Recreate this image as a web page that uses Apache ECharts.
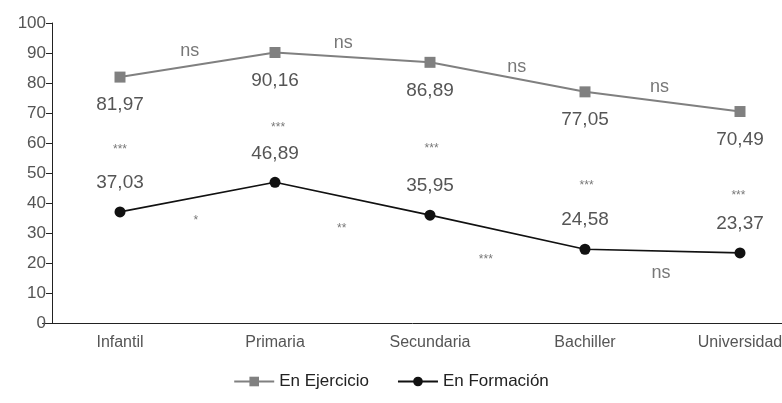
<!DOCTYPE html>
<html>
<head>
<meta charset="utf-8">
<script src="https://cdn.jsdelivr.net/npm/echarts@6/dist/echarts.min.js"></script>
<style>html,body{margin:0;padding:0;background:#fff}#c{width:782px;height:403px}</style>
</head>
<body>
<div id="c"></div>
<script>
var categories = ['Infantil', 'Primaria', 'Secundaria', 'Bachiller', 'Universidad'];
var ejercicio = [81.97, 90.16, 86.89, 77.05, 70.49];
var formacion = [37.03, 46.89, 35.95, 24.58, 23.37];
var yTicks = [0, 10, 20, 30, 40, 50, 60, 70, 80, 90, 100];
// significance annotations: [x position (category index), y value, text]
var annX = [0.45, 1.44, 2.56, 3.48, 0.0, 1.02, 2.01, 3.01, 3.99, 0.49, 1.43, 2.36, 3.49];
var annY = [90.7, 93.3, 85.3, 78.7, 58.7, 66, 59, 46.7, 43.3, 35, 32.3, 22, 16.7];
var annText = ['ns', 'ns', 'ns', 'ns', '***', '***', '***', '***', '***', '*', '**', '***', 'ns'];

var FONT = '"Liberation Sans", Arial, sans-serif';
var fmt = function (v) { return v.toFixed(2).replace('.', ','); };

var annData = annX.map(function (x, i) {
  var isStar = annText[i].charAt(0) === '*';
  return {
    value: [x, annY[i]],
    name: annText[i],
    label: { fontSize: isStar ? 12 : 18, offset: [0, isStar ? 3 : 0] }
  };
});

var chart = echarts.init(document.getElementById('c'));
chart.setOption({
  animation: false,
  textStyle: { fontFamily: FONT },
  grid: { left: 42.5, width: 775, top: 23, height: 300, containLabel: false, outerBoundsMode: 'none' },
  legend: {
    data: ['En Ejercicio', 'En Formación'],
    bottom: 8,
    left: 'center',
    itemWidth: 40,
    itemHeight: 12,
    itemGap: 28,
    textStyle: { fontSize: 17, color: '#222', fontFamily: FONT }
  },
  xAxis: [{
    type: 'category',
    data: categories,
    boundaryGap: true,
    axisLine: { lineStyle: { color: '#222', width: 1 } },
    axisTick: { alignWithLabel: true, length: 6, lineStyle: { color: '#222' } },
    axisLabel: { fontSize: 16, color: '#555', margin: 12, fontFamily: FONT }
  }, {
    type: 'value',
    min: -0.5,
    max: 4.5,
    show: false
  }],
  yAxis: {
    type: 'value',
    min: yTicks[0],
    max: yTicks[yTicks.length - 1],
    interval: 10,
    offset: -9.5,
    splitLine: { show: false },
    axisLine: { show: true, onZero: false, lineStyle: { color: '#222', width: 1 } },
    axisTick: { show: true, length: 6, lineStyle: { color: '#222' } },
    axisLabel: { fontSize: 17, color: '#555', margin: 6, fontFamily: FONT }
  },
  series: [{
    name: 'En Ejercicio',
    type: 'line',
    data: ejercicio,
    symbol: 'rect',
    symbolSize: 11,
    itemStyle: { color: '#808080' },
    lineStyle: { color: '#808080', width: 2 },
    label: {
      show: true, position: 'bottom', distance: 13,
      fontSize: 19, color: '#555', fontFamily: FONT,
      formatter: function (p) { return fmt(p.value); }
    }
  }, {
    name: 'En Formación',
    type: 'line',
    data: formacion,
    symbol: 'circle',
    symbolSize: 11,
    itemStyle: { color: '#111' },
    lineStyle: { color: '#111', width: 1.6 },
    label: {
      show: true, position: 'top', distance: 14,
      fontSize: 19, color: '#555', fontFamily: FONT,
      formatter: function (p) { return fmt(p.value); }
    }
  }, {
    name: 'annotations',
    type: 'scatter',
    xAxisIndex: 1,
    symbolSize: 0,
    data: annData,
    silent: true,
    label: {
      show: true, position: 'inside', color: '#555', fontFamily: FONT,
      formatter: function (p) { return p.name; }
    }
  }]
});
</script>
</body>
</html>
